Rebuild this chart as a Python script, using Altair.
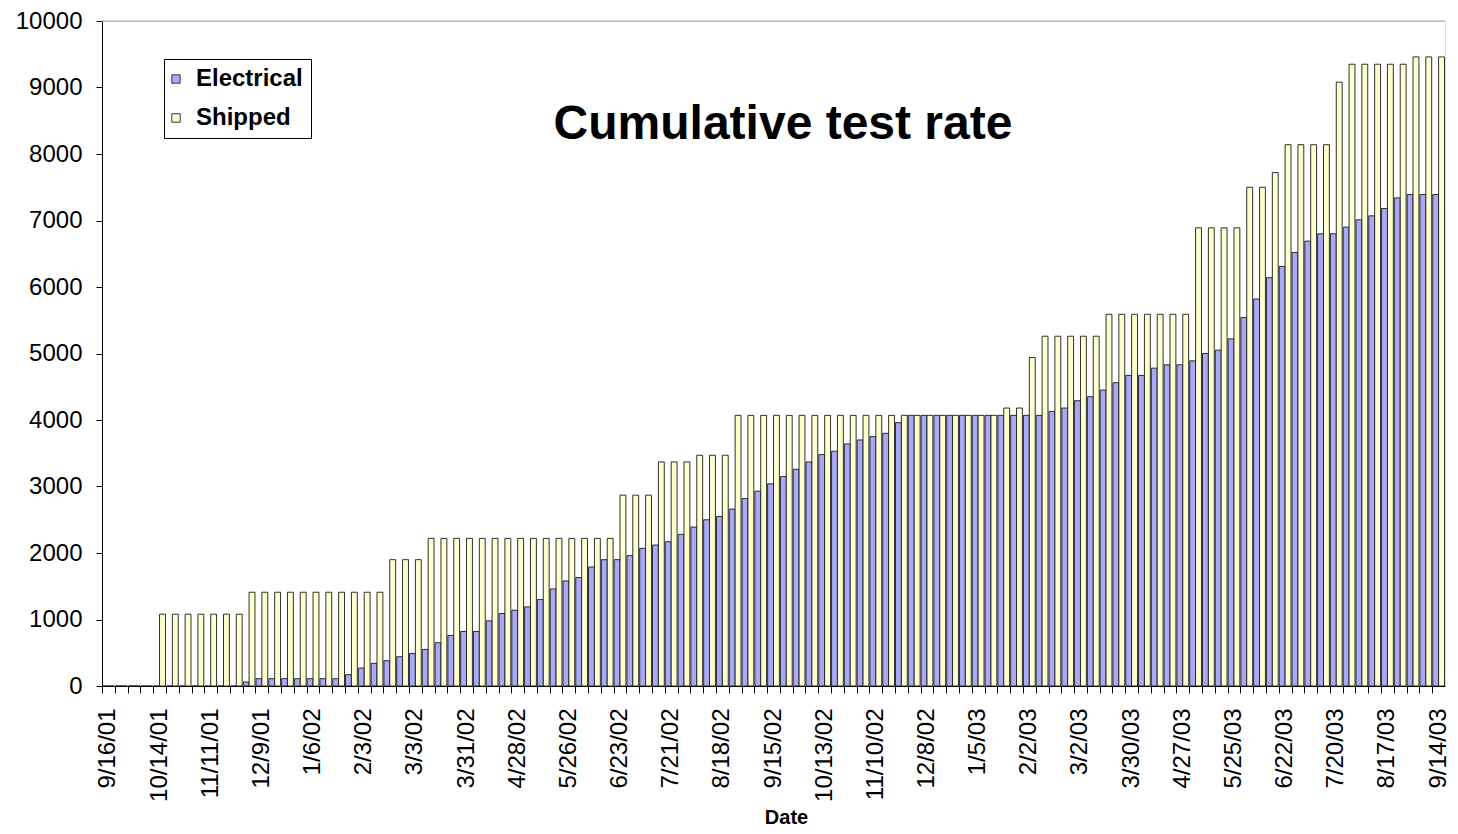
import altair as alt
import pandas as pd

# ---- data ----
dates = [
    "9/16/01", "9/23/01", "9/30/01", "10/7/01", "10/14/01", "10/21/01", "10/28/01", "11/4/01",
    "11/11/01", "11/18/01", "11/25/01", "12/2/01", "12/9/01", "12/16/01", "12/23/01", "12/30/01",
    "1/6/02", "1/13/02", "1/20/02", "1/27/02", "2/3/02", "2/10/02", "2/17/02", "2/24/02",
    "3/3/02", "3/10/02", "3/17/02", "3/24/02", "3/31/02", "4/7/02", "4/14/02", "4/21/02",
    "4/28/02", "5/5/02", "5/12/02", "5/19/02", "5/26/02", "6/2/02", "6/9/02", "6/16/02",
    "6/23/02", "6/30/02", "7/7/02", "7/14/02", "7/21/02", "7/28/02", "8/4/02", "8/11/02",
    "8/18/02", "8/25/02", "9/1/02", "9/8/02", "9/15/02", "9/22/02", "9/29/02", "10/6/02",
    "10/13/02", "10/20/02", "10/27/02", "11/3/02", "11/10/02", "11/17/02", "11/24/02", "12/1/02",
    "12/8/02", "12/15/02", "12/22/02", "12/29/02", "1/5/03", "1/12/03", "1/19/03", "1/26/03",
    "2/2/03", "2/9/03", "2/16/03", "2/23/03", "3/2/03", "3/9/03", "3/16/03", "3/23/03",
    "3/30/03", "4/6/03", "4/13/03", "4/20/03", "4/27/03", "5/4/03", "5/11/03", "5/18/03",
    "5/25/03", "6/1/03", "6/8/03", "6/15/03", "6/22/03", "6/29/03", "7/6/03", "7/13/03",
    "7/20/03", "7/27/03", "8/3/03", "8/10/03", "8/17/03", "8/24/03", "8/31/03", "9/7/03",
    "9/14/03",
]

tick_labels = [
    "9/16/01", "10/14/01", "11/11/01", "12/9/01", "1/6/02", "2/3/02", "3/3/02", "3/31/02",
    "4/28/02", "5/26/02", "6/23/02", "7/21/02", "8/18/02", "9/15/02", "10/13/02", "11/10/02",
    "12/8/02", "1/5/03", "2/2/03", "3/2/03", "3/30/03", "4/27/03", "5/25/03", "6/22/03",
    "7/20/03", "8/17/03", "9/14/03",
]

electrical = [
    0, 0, 0, 0, 0, 0, 0, 0, 0, 0, 0, 60, 110, 110, 110, 110,
    110, 110, 110, 170, 270, 340, 380, 440, 490, 550, 650, 760, 820, 820, 980, 1090,
    1140, 1190, 1300, 1460, 1580, 1630, 1790, 1900, 1900, 1960, 2070, 2120, 2170, 2280, 2390, 2500,
    2550, 2660, 2820, 2930, 3040, 3150, 3260, 3370, 3480, 3530, 3640, 3700, 3750, 3800, 3960, 4070,
    4070, 4070, 4070, 4070, 4070, 4070, 4070, 4070, 4070, 4070, 4130, 4180, 4290, 4350, 4450, 4560,
    4670, 4670, 4780, 4830, 4830, 4890, 5000, 5050, 5220, 5540, 5820, 6140, 6310, 6520, 6690, 6800,
    6800, 6900, 7010, 7070, 7180, 7340, 7390, 7390, 7390,
]

shipped = [
    0, 0, 0, 0, 1080, 1080, 1080, 1080, 1080, 1080, 1080, 1410, 1410, 1410, 1410, 1410,
    1410, 1410, 1410, 1410, 1410, 1410, 1900, 1900, 1900, 2220, 2220, 2220, 2220, 2220, 2220, 2220,
    2220, 2220, 2220, 2220, 2220, 2220, 2220, 2220, 2870, 2870, 2870, 3370, 3370, 3370, 3470, 3470,
    3470, 4070, 4070, 4070, 4070, 4070, 4070, 4070, 4070, 4070, 4070, 4070, 4070, 4070, 4070, 4070,
    4070, 4070, 4070, 4070, 4070, 4070, 4180, 4180, 4940, 5260, 5260, 5260, 5260, 5260, 5590, 5590,
    5590, 5590, 5590, 5590, 5590, 6890, 6890, 6890, 6890, 7500, 7500, 7720, 8140, 8140, 8140, 8140,
    9080, 9350, 9350, 9350, 9350, 9350, 9460, 9460, 9460,
]

series_names = ["Electrical", "Shipped"]
series_colors = ["#a9a9f7", "#ffffcf"]
chart_title = "Cumulative test rate"

assert len(dates) == len(electrical) == len(shipped)

rows = []
for d, e, s in zip(dates, electrical, shipped):
    rows.append({"date": d, "series": "Electrical", "value": e})
    rows.append({"date": d, "series": "Shipped", "value": s})
df = pd.DataFrame(rows)

FONT = "Liberation Sans"
label_filter = "(" + " || ".join("datum.value == '%s'" % t for t in tick_labels) + ") ? datum.label : ''"

bars = alt.Chart(df).mark_bar(stroke="#1a1a1a", strokeWidth=0.9).encode(
    x=alt.X(
        "date:N",
        sort=dates,
        scale=alt.Scale(paddingInner=0.08, paddingOuter=0.04),
        axis=alt.Axis(
            title="Date",
            titleFont=FONT,
            titleFontSize=20,
            titleFontWeight="bold",
            titleColor="black",
            titleX=684,
            titleY=137,
            titleAlign="center",
            titleBaseline="alphabetic",
            labelAngle=-90,
            labelFont=FONT,
            labelFontSize=24,
            labelColor="black",
            labelPadding=15,
            labelExpr=label_filter,
            labelOverlap=False,
            bandPosition=0,
            tickSize=7,
            tickColor="black",
            domainColor="black",
            grid=False,
        ),
    ),
    xOffset=alt.XOffset(
        "series:N",
        sort=series_names,
        scale=alt.Scale(paddingInner=0, paddingOuter=0),
    ),
    y=alt.Y(
        "value:Q",
        scale=alt.Scale(domain=[0, 10000], nice=False),
        axis=alt.Axis(
            title=None,
            values=list(range(0, 10001, 1000)),
            format="d",
            labelFont=FONT,
            labelFontSize=24,
            labelColor="black",
            labelPadding=14,
            tickSize=6,
            tickColor="black",
            domainColor="black",
            grid=False,
        ),
    ),
    color=alt.Color(
        "series:N",
        sort=series_names,
        scale=alt.Scale(domain=series_names, range=series_colors),
        legend=alt.Legend(
            title=None,
            orient="none",
            legendX=62,
            legendY=38,
            direction="vertical",
            fillColor="white",
            strokeColor="black",
            padding=8,
            labelFont=FONT,
            labelFontSize=24,
            labelFontWeight="bold",
            labelColor="black",
            labelOffset=8,
            symbolOffset=-8,
            rowPadding=15,
            symbolType="square",
            symbolSize=70,
            symbolStrokeColor="#333333",
            symbolStrokeWidth=1,
        ),
    ),
)

top_line = alt.Chart(pd.DataFrame({"v": [10000]})).mark_rule(
    color="#a0a0a0", strokeWidth=1
).encode(y=alt.Y("v:Q"))

title_df = pd.DataFrame({"t": [chart_title]})
title_text = alt.Chart(title_df).mark_text(
    font=FONT, fontSize=48, fontWeight="bold", color="black",
    align="center", baseline="alphabetic",
).encode(text="t:N", x=alt.value(681), y=alt.value(118))

chart = alt.layer(top_line, bars, title_text).properties(
    width=1343,
    height=665,
    autosize=alt.AutoSizeParams(type="none"),
    padding={"left": 94, "top": 13, "right": 5, "bottom": 140},
).configure_view(strokeWidth=0).configure(font=FONT)

chart.save("out.html", embed_options={"renderer": "svg", "actions": False})
